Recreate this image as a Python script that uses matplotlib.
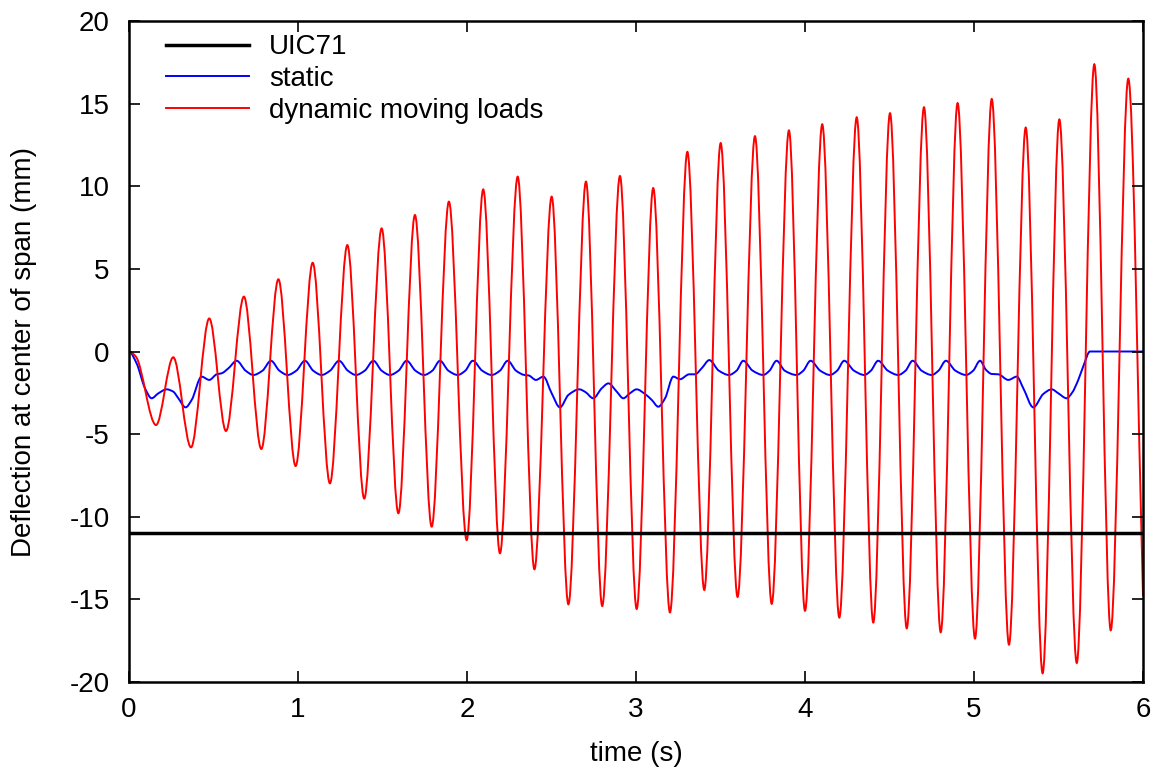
import numpy as np
import matplotlib
matplotlib.use('Agg')
import matplotlib.pyplot as plt
from matplotlib.path import Path
from matplotlib.patches import PathPatch
from matplotlib.lines import Line2D

plt.rcParams['font.family'] = ['Liberation Sans', 'DejaVu Sans']
plt.rcParams['axes.unicode_minus'] = False

# UIC71 reference deflection (mm)
uic71 = -11.0

# dynamic response: extrema (s, mm)
dyn_t = [0.0, 0.04, 0.16, 0.262, 0.367, 0.475, 0.574, 0.680, 0.783, 0.884,
         0.986, 1.087, 1.189, 1.292, 1.392, 1.495, 1.594, 1.692, 1.791, 1.893,
         1.998, 2.096, 2.195, 2.300, 2.399, 2.501, 2.600, 2.704, 2.800, 2.905,
         3.004, 3.102, 3.201, 3.304, 3.404, 3.501, 3.601, 3.704, 3.803, 3.905,
         4.000, 4.102, 4.203, 4.306, 4.404, 4.503, 4.602, 4.704, 4.803, 4.903,
         5.006, 5.105, 5.207, 5.306, 5.406, 5.505, 5.608, 5.712, 5.809, 5.913,
         6.0]
dyn_v = [0.0, -0.3, -4.45, -0.35, -5.8, 2.0, -4.81, 3.32, -5.9, 4.37,
         -6.93, 5.37, -7.98, 6.44, -8.9, 7.45, -9.79, 8.26, -10.6, 9.07,
         -11.41, 9.81, -12.21, 10.58, -13.18, 9.37, -15.3, 10.28, -15.4, 10.62,
         -15.58, 9.89, -15.79, 12.08, -14.43, 12.61, -14.85, 13.03, -15.27, 13.38,
         -15.69, 13.75, -16.1, 14.17, -16.4, 14.42, -16.75, 14.78, -16.99, 15.03,
         -17.37, 15.28, -17.74, 13.55, -19.47, 14.04, -18.85, 17.38, -16.87, 16.51,
         -14.8]

# static response (s, mm)
stat_t = [0.0, 0.045, 0.095, 0.134, 0.174, 0.223, 0.262, 0.292, 0.335, 0.371,
          0.43, 0.475, 0.519, 0.548, 0.59, 0.637,
          0.69, 0.736, 0.79, 0.84, 0.89, 0.939, 0.99, 1.041, 1.09, 1.140,
          1.19, 1.243, 1.295, 1.343, 1.395, 1.446, 1.495, 1.544, 1.595, 1.643,
          1.695, 1.746, 1.795, 1.840, 1.89, 1.945, 1.99, 2.034, 2.09, 2.146,
          2.195, 2.241, 2.29, 2.339, 2.365, 2.408, 2.452, 2.501, 2.550, 2.600,
          2.665, 2.70, 2.747, 2.797, 2.837, 2.886, 2.925, 2.964, 3.004, 3.053,
          3.093, 3.132, 3.172, 3.221, 3.260, 3.315, 3.349, 3.39, 3.434,
          3.49, 3.550, 3.595, 3.635, 3.69, 3.753, 3.79, 3.832, 3.88, 3.950,
          3.99, 4.033, 4.09, 4.148, 4.19, 4.232, 4.29, 4.351, 4.39, 4.433,
          4.49, 4.552, 4.595, 4.637, 4.69, 4.750, 4.79, 4.834, 4.89, 4.953,
          4.995, 5.036, 5.07, 5.105, 5.144, 5.203, 5.253, 5.292, 5.351, 5.410,
          5.460, 5.499, 5.548, 5.58, 5.617, 5.65, 5.686, 6.0]
stat_v = [0.0, -0.72, -2.23, -2.83, -2.53, -2.29, -2.43, -2.83, -3.38, -2.93,
          -1.52, -1.72, -1.38, -1.32, -1.0, -0.56,
          -1.16, -1.42, -1.16, -0.56, -1.16, -1.42, -1.16, -0.56, -1.16, -1.42,
          -1.16, -0.56, -1.16, -1.42, -1.16, -0.56, -1.16, -1.42, -1.16, -0.56,
          -1.16, -1.42, -1.16, -0.56, -1.16, -1.42, -1.16, -0.56, -1.16, -1.42,
          -1.16, -0.56, -1.16, -1.42, -1.45, -1.72, -1.52, -2.53, -3.38, -2.63,
          -2.29, -2.45, -2.83, -2.23, -1.93, -2.43, -2.83, -2.53, -2.29, -2.57,
          -2.93, -3.34, -2.83, -1.52, -1.68, -1.38, -1.38, -1.0, -0.52,
          -1.16, -1.42, -1.16, -0.56, -1.16, -1.42, -1.16, -0.56, -1.16, -1.42,
          -1.16, -0.56, -1.16, -1.42, -1.16, -0.56, -1.16, -1.42, -1.16, -0.56,
          -1.16, -1.42, -1.16, -0.56, -1.16, -1.42, -1.16, -0.56, -1.16, -1.42,
          -1.16, -0.56, -1.1, -1.36, -1.38, -1.72, -1.52, -2.23, -3.38, -2.57,
          -2.29, -2.53, -2.83, -2.5, -1.72, -0.8, 0.0, 0.0]


def smooth_path(t, v):
    # monotone cubic (pchip-like) bezier path through the read points
    t = np.asarray(t, float)
    v = np.asarray(v, float)
    h = np.diff(t)
    d = np.diff(v) / h
    m = np.zeros_like(v)
    for i in range(1, len(v) - 1):
        if d[i - 1] * d[i] > 0:
            w1 = 2 * h[i] + h[i - 1]
            w2 = h[i] + 2 * h[i - 1]
            m[i] = (w1 + w2) / (w1 / d[i - 1] + w2 / d[i])
    m[-1] = d[-1]
    verts = [(t[0], v[0])]
    codes = [Path.MOVETO]
    for i in range(len(h)):
        verts += [(t[i] + h[i] / 3, v[i] + m[i] * h[i] / 3),
                  (t[i + 1] - h[i] / 3, v[i + 1] - m[i + 1] * h[i] / 3),
                  (t[i + 1], v[i + 1])]
        codes += [Path.CURVE4] * 3
    return Path(verts, codes)


fig = plt.figure(figsize=(11.61, 7.75), dpi=100)
ax = fig.add_axes([0.1111, 0.12, 0.8734, 0.8529])

ax.axhline(uic71, color='k', lw=2.5)
ax.add_patch(PathPatch(smooth_path(stat_t, stat_v), fill=False,
                       edgecolor='#0000ff', lw=1.4))
ax.add_patch(PathPatch(smooth_path(dyn_t, dyn_v), fill=False,
                       edgecolor='#ff0000', lw=1.4))

ax.set_xlim(0, 6)
ax.set_ylim(-20, 20)
ax.set_xticks(np.arange(0, 7, 1))
ax.set_yticks(np.arange(-20, 25, 5))
ax.tick_params(direction='in', length=8, width=1.2, top=True, right=True,
               labelsize=20)
ax.tick_params(axis='y', pad=14)
ax.tick_params(axis='x', pad=11)
for s in ax.spines.values():
    s.set_linewidth(1.8)

ax.set_xlabel('time (s)', fontsize=20)
ax.set_ylabel('Deflection at center of span (mm)', fontsize=20)
ax.xaxis.set_label_coords(0.5, -0.09)
ax.yaxis.set_label_coords(-0.091, 0.5)

handles = [Line2D([], [], color='k', lw=2.5),
           Line2D([], [], color='#0000ff', lw=1.4),
           Line2D([], [], color='#ff0000', lw=1.4)]
labels = ['UIC71', 'static', 'dynamic moving loads']
ax.legend(handles, labels, loc='upper left', bbox_to_anchor=(0.017, 1.009),
          frameon=False, fontsize=20, handlelength=3.0, handletextpad=0.72,
          labelspacing=0.2, borderaxespad=0.3)

fig.savefig('out.png', dpi=100)
